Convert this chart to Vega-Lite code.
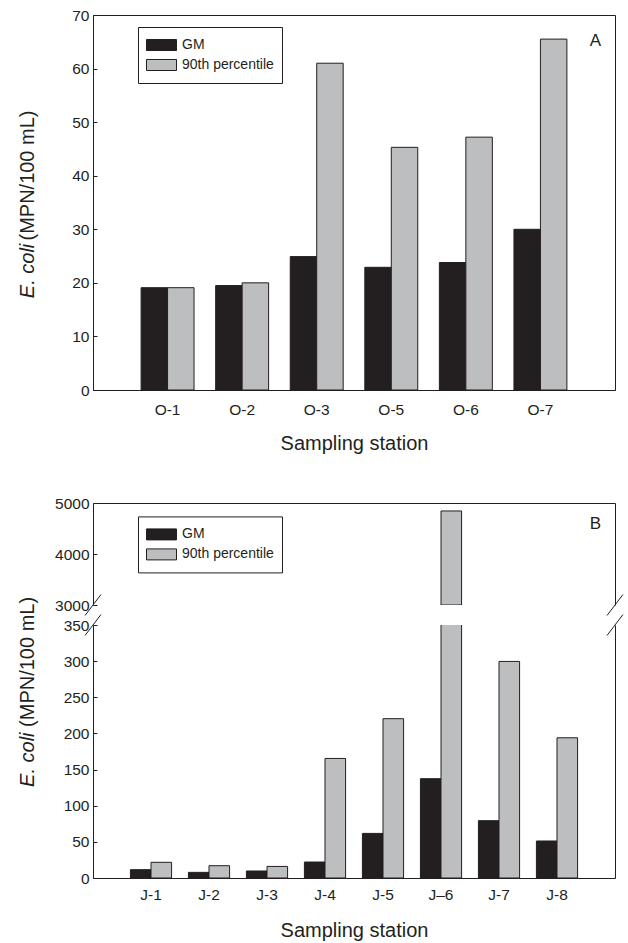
{
  "$schema": "https://vega.github.io/schema/vega-lite/v6.json",
  "padding": {"left": 16, "top": 7, "right": 0, "bottom": 0},
  "background": "white",
  "config": {
    "font": "Liberation Sans",
    "view": {"stroke": null},
    "axis": {
      "labelFont": "Liberation Sans", "titleFont": "Liberation Sans",
      "labelColor": "#231f20", "titleColor": "#231f20",
      "domainColor": "#231f20", "tickColor": "#231f20",
      "grid": false, "labelFontSize": 15.5, "titleFontSize": 20, "titleFontWeight": "normal"
    },
    "axisY": {"tickSize": -4, "labelPadding": 8, "format": "d"},
    "axisX": {"labelAngle": 0, "ticks": false, "tickSize": 0},
    "legend": {
      "orient": "none", "title": null, "strokeColor": "#231f20", "fillColor": "white",
      "padding": 8, "symbolType": "M-1,-0.367L1,-0.367L1,0.367L-1,0.367Z", "symbolSize": 900,
      "symbolStrokeColor": "#231f20", "symbolStrokeWidth": 1, "labelFont": "Liberation Sans",
      "labelFontSize": 14, "labelColor": "#231f20", "labelOffset": 5, "clipHeight": 20, "rowPadding": -3, "symbolOpacity": 1
    },
    "title": {"font": "Liberation Sans", "fontSize": 17, "fontWeight": "normal", "color": "#231f20", "anchor": "end", "orient": "top", "baseline": "top", "frame": "group"}
  },
  "datasets": {
    "a": [
      {"station": "O-1", "series": "GM", "value": 19.1},
      {"station": "O-1", "series": "90th percentile", "value": 19.1},
      {"station": "O-2", "series": "GM", "value": 19.5},
      {"station": "O-2", "series": "90th percentile", "value": 20.0},
      {"station": "O-3", "series": "GM", "value": 24.9},
      {"station": "O-3", "series": "90th percentile", "value": 61.0},
      {"station": "O-5", "series": "GM", "value": 22.9},
      {"station": "O-5", "series": "90th percentile", "value": 45.3},
      {"station": "O-6", "series": "GM", "value": 23.8},
      {"station": "O-6", "series": "90th percentile", "value": 47.2},
      {"station": "O-7", "series": "GM", "value": 30.0},
      {"station": "O-7", "series": "90th percentile", "value": 65.5}
    ],
    "b": [
      {"station": "J-1", "series": "GM", "value": 11.5},
      {"station": "J-1", "series": "90th percentile", "value": 21.7},
      {"station": "J-2", "series": "GM", "value": 7.8},
      {"station": "J-2", "series": "90th percentile", "value": 17},
      {"station": "J-3", "series": "GM", "value": 9.7},
      {"station": "J-3", "series": "90th percentile", "value": 16},
      {"station": "J-4", "series": "GM", "value": 22.1},
      {"station": "J-4", "series": "90th percentile", "value": 165.4},
      {"station": "J-5", "series": "GM", "value": 61.7},
      {"station": "J-5", "series": "90th percentile", "value": 220.4},
      {"station": "J–6", "series": "GM", "value": 137.4},
      {"station": "J–6", "series": "90th percentile", "value": 4844},
      {"station": "J-7", "series": "GM", "value": 79.3},
      {"station": "J-7", "series": "90th percentile", "value": 299.6},
      {"station": "J-8", "series": "GM", "value": 51.2},
      {"station": "J-8", "series": "90th percentile", "value": 194}
    ]
  },
  "vconcat": [
    {
      "width": 522, "height": 375,
      "data": {"name": "a"},
      "view": {"stroke": "#231f20", "strokeWidth": 1},
      "title": {"text": "A", "offset": -41.5, "dx": -14},
      "layer": [
        {
          "transform": [{"filter": "datum.series === 'GM'"}],
          "mark": {"type": "bar", "stroke": "#231f20", "strokeWidth": 1},
          "encoding": {
            "x": {"field": "station", "type": "nominal", "sort": null, "scale": {"domain": ["O-1","O-2","O-3","O-5","O-6","O-7"], "paddingInner": 0.29, "paddingOuter": 0.645}, "axis": {"labelPadding": 12.3, "title": "Sampling station", "titleY": 59.3, "titleBaseline": "alphabetic", "domain": true}},
            "xOffset": {"field": "series", "type": "nominal", "scale": {"domain": ["GM","90th percentile"]}},
            "y": {"field": "value", "type": "quantitative", "scale": {"domain": [0,70], "nice": false}, "axis": {"orient": "left", "values": [0,10,20,30,40,50,60,70], "title": "(MPN/100 mL)", "titleAlign": "right", "titleBaseline": "alphabetic", "titleAngle": 270, "titleX": -60, "titleY": 95}},
            "color": {"field": "series", "type": "nominal", "scale": {"domain": ["GM","90th percentile"], "range": ["#231f20","#bcbec0"]}, "legend": {"legendX": 45, "legendY": 12}}
          }
        },
        {
          "transform": [{"filter": "datum.series !== 'GM'"}],
          "mark": {"type": "bar", "stroke": "#231f20", "strokeWidth": 1},
          "encoding": {
            "x": {"field": "station", "type": "nominal", "sort": null, "scale": {"domain": ["O-1","O-2","O-3","O-5","O-6","O-7"], "paddingInner": 0.29, "paddingOuter": 0.645}, "axis": {"labelPadding": 12.3, "title": "Sampling station", "titleY": 59.3, "titleBaseline": "alphabetic", "domain": true}},
            "xOffset": {"field": "series", "type": "nominal", "scale": {"domain": ["GM","90th percentile"]}},
            "y": {"field": "value", "type": "quantitative", "scale": {"domain": [0,70], "nice": false}, "axis": {"orient": "left", "labels": false, "ticks": false, "domain": false, "title": "E. coli", "titleFontStyle": "italic", "titleAlign": "left", "titleBaseline": "alphabetic", "titleAngle": 270, "titleX": -60, "titleY": 282.7}},
            "color": {"field": "series", "type": "nominal", "scale": {"domain": ["GM","90th percentile"], "range": ["#231f20","#bcbec0"]}, "legend": {"legendX": 45, "legendY": 12}}
          }
        }
      ],
      "resolve": {"axis": {"y": "independent"}}
    },
    {
      "spacing": 20,
      "bounds": "flush",
      "resolve": {"scale": {"x": "independent", "y": "independent", "xOffset": "independent", "color": "independent"}, "legend": {"color": "independent"}, "axis": {"x": "independent", "y": "independent"}},
      "vconcat": [
        {
          "width": 522, "height": 102,
          "title": {"text": "B", "offset": -36.6, "dx": -14},
          "layer": [
            {
              "data": {"name": "b"},
              "transform": [{"filter": "datum.value > 3000"}],
              "mark": {"type": "bar", "stroke": "#231f20", "strokeWidth": 1, "clip": true},
              "encoding": {
                "x": {"field": "station", "type": "nominal", "sort": null, "scale": {"domain": ["J-1","J-2","J-3","J-4","J-5","J–6","J-7","J-8"], "paddingInner": 0.29, "paddingOuter": 0.645}, "axis": {"orient": "top", "labels": false, "ticks": false, "domain": true, "title": null}},
                "xOffset": {"field": "series", "type": "nominal", "scale": {"domain": ["GM","90th percentile"]}},
                "y": {"field": "value", "type": "quantitative", "scale": {"domain": [3000,5000], "nice": false, "zero": false}, "axis": {"orient": "left", "values": [3000,4000,5000], "title": null}},
                "y2": {"datum": 3000},
                "color": {"field": "series", "type": "nominal", "scale": {"domain": ["GM","90th percentile"], "range": ["#231f20","#bcbec0"]}, "legend": {"legendX": 45, "legendY": 13.4}}
              }
            },
            {
              "data": {"values": [{"brk": 3000}]},
              "mark": {"type": "point", "shape": "M-0.76,1L0.76,-1", "size": 441, "filled": false, "stroke": "#231f20", "strokeWidth": 1, "opacity": 1},
              "encoding": {"x": {"value": 0}, "y": {"field": "brk", "type": "quantitative", "scale": {"domain": [3000,5000], "nice": false, "zero": false}, "axis": null}}
            },
            {
              "data": {"values": [{"brk": 3000}]},
              "mark": {"type": "point", "shape": "M-0.76,1L0.76,-1", "size": 441, "filled": false, "stroke": "#231f20", "strokeWidth": 1, "opacity": 1},
              "encoding": {"x": {"value": "width"}, "y": {"field": "brk", "type": "quantitative", "scale": {"domain": [3000,5000], "nice": false, "zero": false}, "axis": {"orient": "right", "labels": false, "ticks": false, "domain": true, "title": null}}}
            }
          ],
          "resolve": {"axis": {"y": "independent"}}
        },
        {
          "width": 522, "height": 253,
          "layer": [
            {
              "data": {"name": "b"},
              "transform": [{"filter": "datum.series === 'GM'"}],
              "mark": {"type": "bar", "stroke": "#231f20", "strokeWidth": 1, "clip": true},
              "encoding": {
                "x": {"field": "station", "type": "nominal", "sort": null, "scale": {"domain": ["J-1","J-2","J-3","J-4","J-5","J–6","J-7","J-8"], "paddingInner": 0.29, "paddingOuter": 0.645}, "axis": {"labelPadding": 9.6, "title": "Sampling station", "titleY": 58.5, "titleBaseline": "alphabetic", "domain": true}},
                "xOffset": {"field": "series", "type": "nominal", "scale": {"domain": ["GM","90th percentile"]}},
                "y": {"field": "value", "type": "quantitative", "scale": {"domain": [0,350], "nice": false}, "axis": {"orient": "left", "values": [0,50,100,150,200,250,300,350], "title": "(MPN/100 mL)", "titleAlign": "right", "titleBaseline": "alphabetic", "titleAngle": 270, "titleX": -60, "titleY": -28.6}},
                "color": {"field": "series", "type": "nominal", "scale": {"domain": ["GM","90th percentile"], "range": ["#231f20","#bcbec0"]}, "legend": null}
              }
            },
            {
              "data": {"name": "b"},
              "transform": [{"filter": "datum.series !== 'GM'"}],
              "mark": {"type": "bar", "stroke": "#231f20", "strokeWidth": 1, "clip": true},
              "encoding": {
                "x": {"field": "station", "type": "nominal", "sort": null, "scale": {"domain": ["J-1","J-2","J-3","J-4","J-5","J–6","J-7","J-8"], "paddingInner": 0.29, "paddingOuter": 0.645}, "axis": {"labelPadding": 9.6, "title": "Sampling station", "titleY": 58.5, "titleBaseline": "alphabetic", "domain": true}},
                "xOffset": {"field": "series", "type": "nominal", "scale": {"domain": ["GM","90th percentile"]}},
                "y": {"field": "value", "type": "quantitative", "scale": {"domain": [0,350], "nice": false}, "axis": {"orient": "left", "labels": false, "ticks": false, "domain": false, "title": "E. coli", "titleFontStyle": "italic", "titleAlign": "left", "titleBaseline": "alphabetic", "titleAngle": 270, "titleX": -60, "titleY": 161.4}},
                "color": {"field": "series", "type": "nominal", "scale": {"domain": ["GM","90th percentile"], "range": ["#231f20","#bcbec0"]}, "legend": null}
              }
            },
            {
              "data": {"values": [{"brk": 350}]},
              "mark": {"type": "point", "shape": "M-0.76,1L0.76,-1", "size": 441, "filled": false, "stroke": "#231f20", "strokeWidth": 1, "opacity": 1},
              "encoding": {"x": {"value": 0}, "y": {"field": "brk", "type": "quantitative", "scale": {"domain": [0,350], "nice": false}, "axis": null}}
            },
            {
              "data": {"values": [{"brk": 350}]},
              "mark": {"type": "point", "shape": "M-0.76,1L0.76,-1", "size": 441, "filled": false, "stroke": "#231f20", "strokeWidth": 1, "opacity": 1},
              "encoding": {"x": {"value": "width"}, "y": {"field": "brk", "type": "quantitative", "scale": {"domain": [0,350], "nice": false}, "axis": {"orient": "right", "labels": false, "ticks": false, "domain": true, "title": null}}}
            }
          ],
          "resolve": {"axis": {"y": "independent"}}
        }
      ]
    }
  ],
  "spacing": 113,
  "bounds": "flush",
  "resolve": {"scale": {"x": "independent", "y": "independent", "xOffset": "independent", "color": "independent"}, "legend": {"color": "independent"}, "axis": {"x": "independent", "y": "independent"}}
}
